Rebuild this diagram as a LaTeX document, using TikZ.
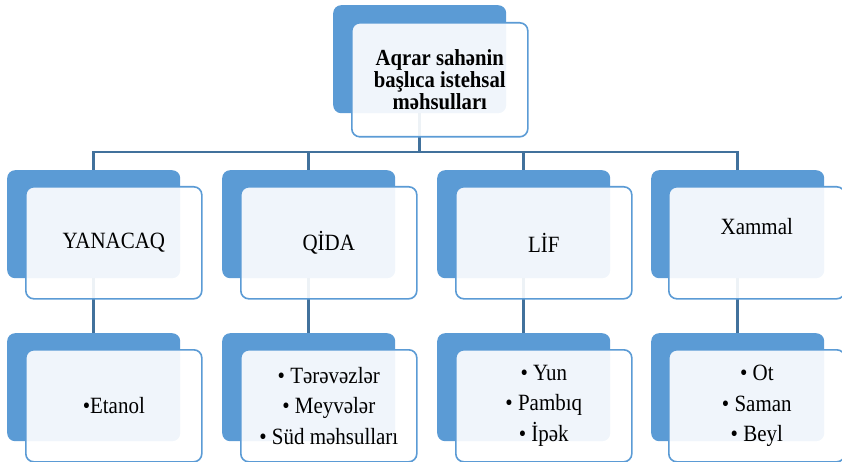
\documentclass[tikz,border=0pt]{standalone}
\usepackage{fontspec}
\setmainfont[FakeStretch=0.9]{Liberation Serif}
\definecolor{bblue}{HTML}{5B9BD5}
\definecolor{lblue}{HTML}{41719C}
\begin{document}
\begin{tikzpicture}[x=1pt,y=-1pt,
  backbox/.style={anchor=north west, fill=bblue, draw=none, rounded corners=8pt, minimum width=173pt, minimum height=108pt, inner sep=0pt},
  frontbox/.style={anchor=north west, fill=white, fill opacity=0.91, text opacity=1, draw=bblue, line width=1.6pt, rounded corners=8pt, minimum width=176pt, minimum height=112pt, inner sep=0pt, align=center, font=\fontsize{23.3}{30.5}\selectfont},
  conn/.style={draw=lblue, line width=2.8pt}]
\useasboundingbox (0,0) rectangle (842,462);
% back boxes
\node[backbox] (tb) at (333,5) {};
\node[backbox] (b1) at (7,170) {};
\node[backbox] (b2) at (222,170) {};
\node[backbox] (b3) at (437,170) {};
\node[backbox] (b4) at (651,170) {};
\node[backbox] (c1) at (7,333) {};
\node[backbox] (c2) at (222,333) {};
\node[backbox] (c3) at (437,333) {};
\node[backbox] (c4) at (651,333) {};
% connectors
\coordinate (bus) at (tb.south |- 0,152);
\draw[conn] (tb.south) -- (bus);
\draw[conn] (bus) -| (b1.north);
\draw[conn] (bus) -| (b2.north);
\draw[conn] (bus) -| (b3.north);
\draw[conn] (bus) -| (b4.north);
\draw[conn] (b1.south) -- (c1.north);
\draw[conn] (b2.south) -- (c2.north);
\draw[conn] (b3.south) -- (c3.north);
\draw[conn] (b4.south) -- (c4.north);
% front boxes
\node[frontbox, minimum height=114pt, font=\bfseries\fontsize{23}{22}\selectfont] (tf) at (351,22) {Aqrar sahənin\\başlıca istehsal\\məhsulları};
\node[frontbox] (f1) at (25,186) {YANACAQ};
\node[frontbox] (f2) at (240,186) {QİDA};
\node[frontbox] (f3) at (455,186) {LİF};
\node[frontbox, text height=0pt, text depth=16pt] (f4) at (668,186) {Xammal};
\node[frontbox] (g1) at (25,349) {•Etanol};
\node[frontbox] (g2) at (240,349) {• Tərəvəzlər\\• Meyvələr\\• Süd məhsulları};
\node[frontbox] (g3) at (455,349) {• Yun\\• Pambıq\\• İpək};
\node[frontbox] (g4) at (668,349) {• Ot\\• Saman\\• Beyl};
\end{tikzpicture}
\end{document}
